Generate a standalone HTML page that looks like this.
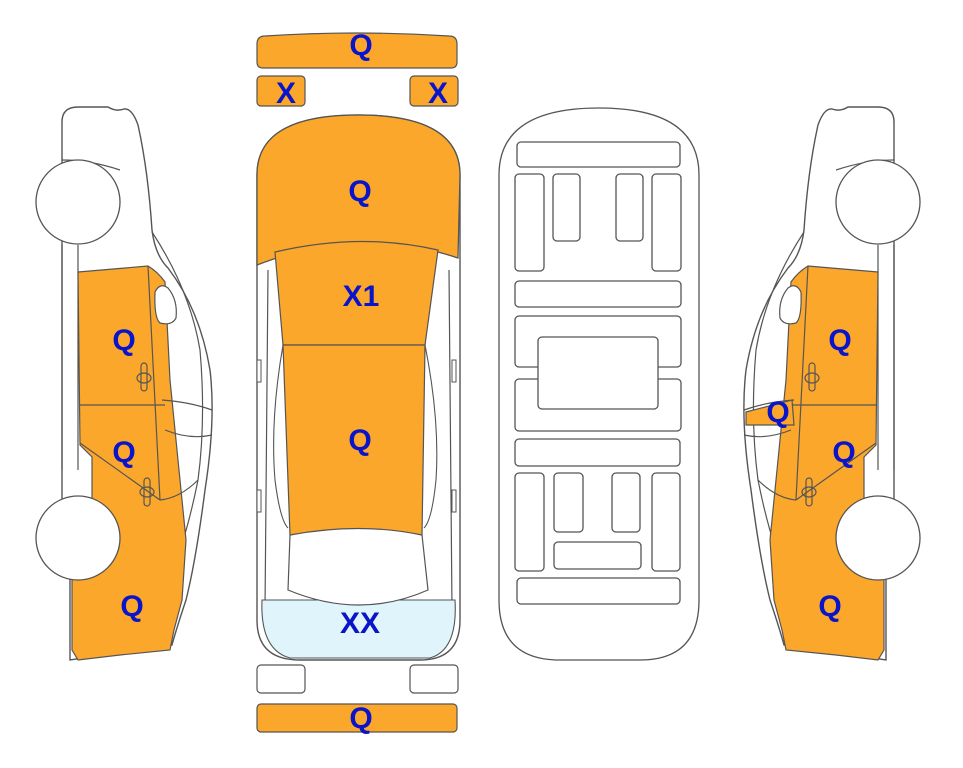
<!DOCTYPE html>
<html><head><meta charset="utf-8"><style>
html,body{margin:0;padding:0;background:#fff;width:963px;height:768px;overflow:hidden}
svg{display:block}
text{font-family:"Liberation Sans",Arial,sans-serif;font-weight:bold;font-size:30px;fill:#0a14c8;text-anchor:middle}
</style></head><body>
<svg width="963" height="768" viewBox="0 0 963 768" xmlns="http://www.w3.org/2000/svg">
<defs>
<g id="side">
  <path d="M62 175 L62 122 Q62 107 78 107 L108 107 Q116 112 124 109 Q132 108 138 125 Q148 170 152 230 Q155 255 168 268 Q200 310 210 370 Q216 420 205 490 Q196 560 186 600 Q176 630 172 645 L70 660 L70 500 L62 500 L62 250 L62 175 Z" fill="#fff" stroke="#555" stroke-width="1.4"/>
  <path d="M152 232 Q190 290 200 350 Q206 420 198 480 Q190 520 180 550" fill="none" stroke="#555" stroke-width="1.2"/>
  <path d="M62 160 Q90 160 120 170" fill="none" stroke="#555" stroke-width="1.2"/>
  <line x1="62" y1="245" x2="62" y2="470" stroke="#555" stroke-width="1.2"/>
  <line x1="78" y1="245" x2="78" y2="470" stroke="#555" stroke-width="1.2"/>
  <path d="M78 272 L148 266 Q158 272 165 282 L170 380 L178 460 L186 540 L182 600 L174 630 L170 650 L120 655 L78 660 L72 650 L72 560 L92 560 L92 457 L80 445 Z" fill="#fba72b" stroke="#555" stroke-width="1.2"/>
  <line x1="148" y1="266" x2="160" y2="500" stroke="#555" stroke-width="1.2"/>
  <line x1="80" y1="405" x2="165" y2="405" stroke="#555" stroke-width="1.2"/>
  <line x1="80" y1="443" x2="160" y2="500" stroke="#555" stroke-width="1.2"/>
  <path d="M155 292 Q160 282 168 288 Q178 300 176 318 Q172 326 160 323 Q154 318 155 292 Z" fill="#fff" stroke="#555" stroke-width="1.2"/>
  <path d="M162 400 Q190 402 212 410 M165 430 Q190 440 212 435" fill="none" stroke="#555" stroke-width="1.2"/>
  <path d="M160 500 Q180 498 198 480" fill="none" stroke="#555" stroke-width="1.2"/>
  <rect x="141" y="363" width="6" height="28" rx="3" fill="none" stroke="#555" stroke-width="1.2"/>
  <ellipse cx="144" cy="378" rx="7" ry="5" fill="none" stroke="#555" stroke-width="1.2"/>
  <rect x="144" y="478" width="6" height="28" rx="3" fill="none" stroke="#555" stroke-width="1.2"/>
  <ellipse cx="147" cy="492" rx="7" ry="5" fill="none" stroke="#555" stroke-width="1.2"/>
  <circle cx="78" cy="202" r="42" fill="#fff" stroke="#555" stroke-width="1.3"/>
  <circle cx="78" cy="538" r="42" fill="#fff" stroke="#555" stroke-width="1.3"/>
</g>
</defs>

<use href="#side"/>
<use href="#side" transform="translate(956,0) scale(-1,1)"/>
<path d="M746 412 L792 400 L794 425 L746 425 Z" fill="#fba72b" stroke="#555" stroke-width="1.2"/>

<path d="M257 175 Q257 115 358 115 Q460 115 460 175 L460 620 Q460 660 420 660 L300 660 Q257 660 257 620 Z" fill="#fff" stroke="#555" stroke-width="1.4"/>
<path d="M268 270 L265 610 M449 270 L452 610" stroke="#555" stroke-width="1.2" fill="none"/>
<path d="M283 345 Q270 420 275 480 Q280 520 288 528 M425 345 Q440 420 436 480 Q432 520 424 528" stroke="#555" stroke-width="1.1" fill="none"/>
<path d="M262 600 L455 600 Q458 650 430 658 L290 658 Q260 650 262 600 Z" fill="#dff4fb" stroke="#555" stroke-width="1.1"/>
<path d="M290 535 Q360 520 422 535 L428 590 Q360 620 288 590 Z" fill="#fff" stroke="#555" stroke-width="1.2"/>
<path d="M257 265 L257 175 Q257 115 358 115 Q460 115 460 175 L458 258 Q360 225 257 265 Z" fill="#fba72b" stroke="#555" stroke-width="1.3"/>
<path d="M275 252 Q360 232 438 250 L425 345 L283 345 Z" fill="#fba72b" stroke="#555" stroke-width="1.2"/>
<path d="M283 345 L425 345 L422 535 Q360 522 290 535 Z" fill="#fba72b" stroke="#555" stroke-width="1.2"/>
<rect x="257" y="360" width="4" height="22" fill="#fff" stroke="#555"/>
<rect x="452" y="360" width="4" height="22" fill="#fff" stroke="#555"/>
<rect x="257" y="490" width="4" height="22" fill="#fff" stroke="#555"/>
<rect x="452" y="490" width="4" height="22" fill="#fff" stroke="#555"/>

<path d="M257 44 Q257 36 265 36 Q357 30 449 36 Q457 36 457 44 L457 62 Q457 68 451 68 L263 68 Q257 68 257 62 Z" fill="#fba72b" stroke="#555" stroke-width="1.2"/>
<rect x="257" y="76" width="48" height="30" rx="4" fill="#fba72b" stroke="#555" stroke-width="1.2"/>
<rect x="410" y="76" width="48" height="30" rx="4" fill="#fba72b" stroke="#555" stroke-width="1.2"/>
<rect x="257" y="665" width="48" height="28" rx="4" fill="#fff" stroke="#555" stroke-width="1.2"/>
<rect x="410" y="665" width="48" height="28" rx="4" fill="#fff" stroke="#555" stroke-width="1.2"/>
<rect x="257" y="704" width="200" height="28" rx="4" fill="#fba72b" stroke="#555" stroke-width="1.2"/>

<g fill="#fff" stroke="#555" stroke-width="1.3">
<path d="M499 175 Q499 108 599 108 Q699 108 699 175 L699 600 Q699 660 640 660 L560 660 Q499 660 499 600 Z"/>
<rect x="517" y="142" width="163" height="25" rx="4"/>
<rect x="515" y="174" width="29" height="97" rx="4"/>
<rect x="553" y="174" width="27" height="67" rx="4"/>
<rect x="616" y="174" width="27" height="67" rx="4"/>
<rect x="652" y="174" width="29" height="97" rx="4"/>
<rect x="515" y="281" width="166" height="26" rx="4"/>
<rect x="515" y="316" width="166" height="51" rx="4"/>
<rect x="515" y="379" width="166" height="52" rx="4"/>
<rect x="538" y="337" width="120" height="72" rx="4"/>
<rect x="515" y="439" width="165" height="27" rx="4"/>
<rect x="515" y="473" width="29" height="98" rx="4"/>
<rect x="554" y="473" width="29" height="59" rx="4"/>
<rect x="612" y="473" width="28" height="59" rx="4"/>
<rect x="652" y="473" width="28" height="98" rx="4"/>
<rect x="554" y="542" width="87" height="27" rx="4"/>
<rect x="517" y="578" width="163" height="26" rx="4"/>
</g>

<text x="361" y="55">Q</text>
<text x="286" y="103">X</text>
<text x="438" y="103">X</text>
<text x="360" y="201">Q</text>
<text x="361" y="306">X1</text>
<text x="360" y="450">Q</text>
<text x="360" y="633">XX</text>
<text x="361" y="728">Q</text>
<text x="124" y="350">Q</text>
<text x="124" y="462">Q</text>
<text x="132" y="616">Q</text>
<text x="840" y="350">Q</text>
<text x="844" y="462">Q</text>
<text x="830" y="616">Q</text>
<text x="778" y="422">Q</text>
</svg>
</body></html>
